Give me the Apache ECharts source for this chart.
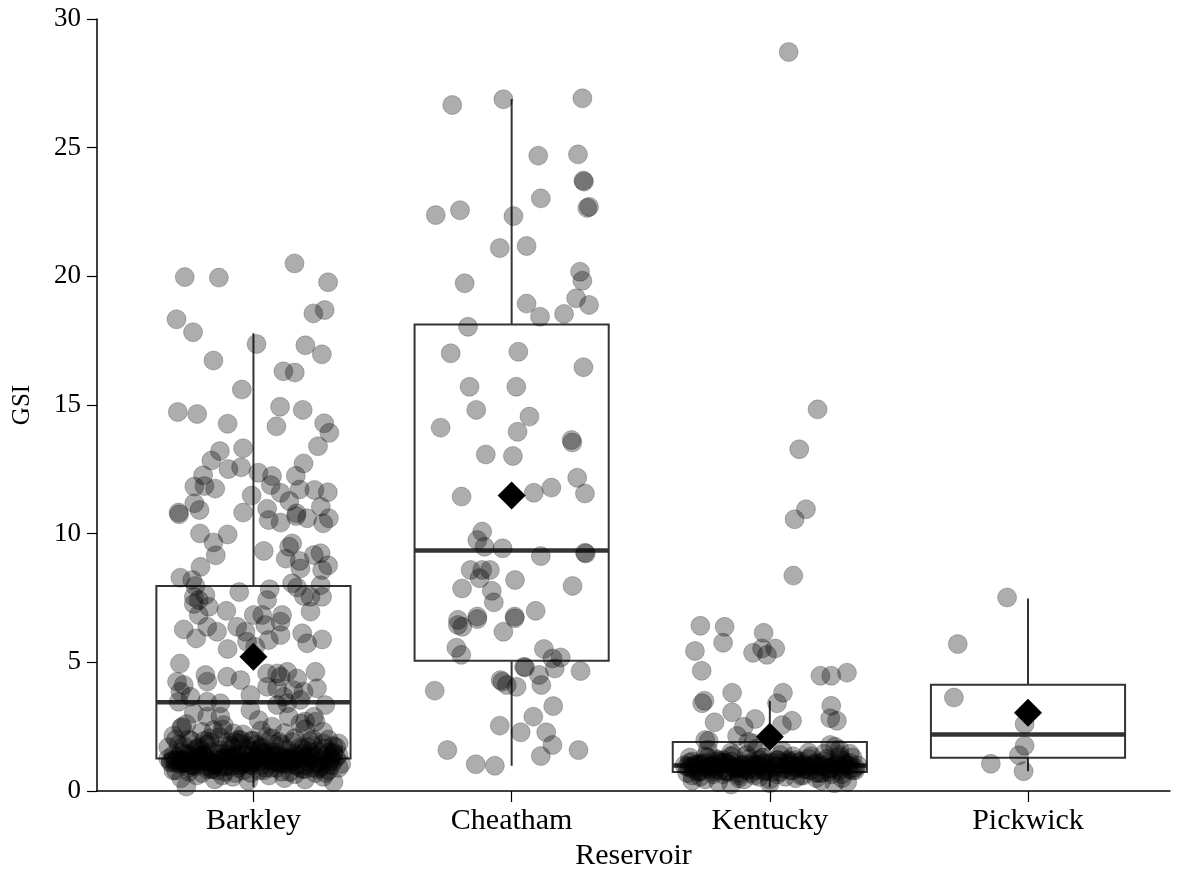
<!DOCTYPE html>
<html><head><meta charset="utf-8">
<script src="https://cdn.jsdelivr.net/npm/echarts@6/dist/echarts.min.js"></script>
<style>html,body{margin:0;padding:0;background:#fff}#c{width:1177px;height:873px}</style>
</head><body><div id="c"></div>
<script>
const categories = ['Barkley','Cheatham','Kentucky','Pickwick'];
const yTicks = [0,5,10,15,20,25,30];
// box stats: [min, Q1, median, Q3, max]
const boxStats = [
  [0.15, 1.26, 3.45, 7.97, 17.79],
  [0.98, 5.06, 9.35, 18.13, 26.89],
  [0.15, 0.74, 0.99, 1.9, 3.5],
  [0.77, 1.29, 2.2, 4.13, 7.48]
];
const means = [5.22, 11.48, 2.11, 3.04];

const barkleyGSI = [19.97,19.95,20.5,19.77,18.33,17.83,18.56,18.69,17.37,17.32,16.97,16.73,16.31,16.26,15.6,14.73,14.65,14.93,14.81,14.27,14.17,14.29,13.92,13.4,13.21,13.32,12.84,12.51,12.58,12.73,12.37,12.24,12.25,12.27,11.83,11.85,11.75,11.89,11.59,11.27,11.72,11.7,11.61,11.48,11.18,10.92,10.82,10.82,10.97,11.05,10.79,
10.75,10.53,10.43,10.69,10.6,10.4,10.6,10.01,9.97,9.66,9.16,9.33,9.49,9.62,9.03,8.94,8.65,9.17,9.24,8.77,8.59,8.71,8.29,8.2,7.97,7.73,7.84,8.07,7.91,7.58,7.55,8.0,7.55,7.55,7.42,7.62,7.16,7.27,7.0,7.42,6.84,6.84,6.84,6.58,6.97,6.84,6.28,6.38,6.19,6.38,6.19,6.45,5.87,6.06,6.13,5.74,5.89,5.93,5.52,5.8,5.61,
4.95,4.51,4.25,4.44,4.31,4.57,4.57,4.44,4.63,4.37,4.63,4.25,4.12,3.86,3.66,4.05,3.99,3.92,3.86,3.99,3.73,3.66,3.54,3.34,3.47,3.47,3.41,3.34,3.41,3.02,2.89,2.89,2.56,3.15,2.76,2.5,2.89,2.63,2.89,2.69,2.5,2.37,2.24,1.98,
2.45,2.3,2.4,2.2,2.35,2.25,2.4,2.3,2.15,
2.0,1.95,2.05,1.9,2.0,1.95,2.1,1.9,2.05,1.95,2.0,1.85,
1.7,1.75,1.65,1.8,1.6,1.7,1.75,1.65,1.8,1.6,1.7,1.75,1.65,1.7,
1.4,1.45,1.35,1.5,1.3,1.45,1.35,1.5,1.4,1.3,1.45,1.35,1.5,1.4,
1.1,1.2,1.0,1.15,1.05,1.2,1.0,1.1,1.2,1.05,1.15,1.0,1.1,1.2,1.05,
0.8,0.9,0.7,0.85,0.75,0.9,0.7,0.8,0.9,0.75,0.85,0.7,0.8,0.9,
0.5,0.6,0.45,0.55,0.4,0.6,0.5,0.45,0.55,0.35,
0.17,1.25,1.55,0.95,1.3,0.65,2.6,2.7,1.15,1.25,0.95,1.05,1.35,0.85,1.15,0.6,
1.2,1.3,1.1,1.4,1.0,1.25,1.35,1.15,1.05,1.45,0.95,1.3,1.2,1.1,1.4,1.0,1.25,1.15,1.35,0.9,
1.5,1.1,1.3,1.2,1.0,1.4,1.15,1.25,0.85,1.35,1.05,1.45,1.2,1.1,1.3,0.95,1.25,1.4,1.0,1.15,
1.6,1.2,1.35,1.05,1.25,1.5,0.9,1.3,1.1,1.2,1.4,1.0,1.15,1.3,0.8,1.25,1.45,1.1,1.2,1.35,
1.8,2.0,1.7,1.9,2.1,1.75,1.85,1.95,1.7,2.05,1.8,1.9,1.65,2.0,1.85,1.75,1.95,1.8,1.7,1.9,
1.1,1.2,1.0,1.3,1.15,1.05,1.25,0.95,1.35,1.1,1.2,1.0,1.3,1.15,1.05,1.25,0.9,1.35,1.1,1.2,
1.0,1.3,1.15,1.05,1.25,0.95,1.4,1.1,1.2,1.0,1.3,1.15,1.05,1.25,0.9,1.35,1.1,1.2,1.0,1.3,
0.8,1.5,0.75,1.55,0.85,1.45,0.7,1.6,0.8,1.5,0.75,1.45,0.85,1.55,0.7,1.5,0.8,1.45,0.9,1.6];
const barkleyJitter = [-0.266,-0.134,0.159,0.289,-0.298,-0.234,0.232,0.276,0.012,0.201,0.265,-0.155,0.116,0.16,-0.045,-0.293,-0.218,0.103,0.191,-0.1,0.089,0.274,0.294,0.25,-0.13,-0.04,-0.163,-0.097,-0.048,0.194,0.019,0.072,0.164,-0.195,-0.229,-0.19,-0.148,0.067,0.105,0.139,0.179,0.236,0.288,-0.007,-0.229,-0.209,-0.29,-0.04,0.053,0.261,0.167,
-0.288,0.059,0.105,0.165,0.208,0.27,0.292,-0.207,-0.1,-0.155,-0.146,0.04,0.138,0.15,0.125,0.179,0.182,0.234,0.26,0.289,0.266,-0.205,-0.283,-0.237,-0.225,-0.055,0.063,0.15,0.169,0.195,0.221,0.26,0.266,-0.231,-0.212,-0.186,-0.173,-0.231,-0.105,0.053,0.001,0.034,0.111,0.105,0.221,-0.212,-0.27,-0.179,-0.141,-0.063,-0.031,0.046,0.059,0.105,0.189,0.208,0.266,-0.222,-0.1,-0.025,0.007,
-0.285,-0.186,-0.179,-0.102,-0.05,0.053,0.092,0.105,0.131,0.169,0.24,-0.296,-0.27,-0.283,-0.244,0.053,0.092,0.155,0.194,0.246,-0.012,0.117,0.182,0.278,-0.29,-0.179,-0.128,0.092,0.131,-0.231,-0.179,-0.128,-0.115,-0.012,0.02,0.072,0.137,0.182,0.234,0.24,-0.276,-0.154,-0.077,-0.05,
-0.28,-0.2,-0.12,-0.04,0.03,0.12,0.2,0.27,-0.31,
-0.3,-0.24,-0.17,-0.1,-0.06,0.0,0.05,0.1,0.16,0.22,0.29,0.33,
-0.33,-0.27,-0.22,-0.18,-0.13,-0.08,-0.02,0.03,0.08,0.13,0.18,0.23,0.28,0.32,
-0.31,-0.26,-0.21,-0.16,-0.11,-0.06,-0.01,0.04,0.09,0.14,0.19,0.24,0.29,0.33,
-0.32,-0.28,-0.24,-0.2,-0.15,-0.1,-0.05,0.0,0.05,0.1,0.15,0.2,0.25,0.3,0.34,
-0.3,-0.25,-0.2,-0.16,-0.11,-0.06,-0.01,0.04,0.09,0.14,0.19,0.24,0.29,0.33,
-0.28,-0.22,-0.15,-0.08,-0.02,0.06,0.12,0.2,0.27,0.31,
-0.26,-0.33,0.0,-0.13,0.22,0.16,-0.26,0.2,-0.22,0.12,0.26,-0.04,0.07,-0.18,0.31,-0.12,
-0.31,-0.29,-0.27,-0.25,-0.23,-0.21,-0.19,-0.17,-0.15,-0.13,-0.11,-0.09,-0.07,-0.05,-0.03,-0.01,0.01,0.03,0.05,0.07,
0.09,0.11,0.13,0.15,0.17,0.19,0.21,0.23,0.25,0.27,0.29,0.31,-0.3,-0.26,-0.22,-0.18,-0.14,-0.1,-0.06,-0.02,
0.02,0.06,0.1,0.14,0.18,0.22,0.26,0.3,-0.28,-0.24,-0.2,-0.16,-0.12,-0.08,-0.04,0.0,0.04,0.08,0.12,0.16,
-0.29,-0.25,-0.21,-0.17,-0.13,-0.09,-0.05,-0.01,0.03,0.07,0.11,0.15,0.19,0.23,0.27,0.31,-0.19,0.01,0.21,-0.07,
-0.3,-0.27,-0.24,-0.21,-0.18,-0.15,-0.12,-0.09,-0.06,-0.03,0.0,0.03,0.06,0.09,0.12,0.15,0.18,0.21,0.24,0.27,
0.3,0.32,-0.32,-0.285,-0.255,-0.225,-0.195,-0.165,-0.135,-0.105,-0.075,-0.045,-0.015,0.015,0.045,0.075,0.105,0.135,0.165,0.195,
-0.31,-0.28,-0.25,-0.2,-0.16,-0.11,-0.07,-0.02,0.02,0.07,0.11,0.16,0.2,0.25,0.28,0.31,-0.14,0.04,0.23,-0.22];

const cheathamGSI = [26.66,26.88,26.92,24.69,24.74,23.72,23.68,23.03,22.38,22.57,22.34,22.66,22.7,21.1,21.18,19.73,20.18,19.83,18.94,18.43,18.54,19.15,18.89,18.04,17.01,17.07,
16.47,15.71,15.71,14.81,14.55,14.12,13.96,13.64,13.54,13.08,13.02,11.44,11.59,11.79,12.17,11.56,10.08,9.75,9.49,9.43,9.13,9.26,9.23,8.59,8.59,8.59,8.27,8.2,7.97,7.87,7.78,7.33,7.0,6.65,6.78,6.78,
6.45,6.38,6.68,6.19,6.71,5.57,5.29,5.52,5.15,5.19,4.76,4.66,4.83,4.8,4.51,4.12,4.31,4.25,4.12,4.05,3.9,3.3,2.89,2.54,2.28,2.28,1.79,1.59,1.59,1.36,1.04,0.98];
const cheathamJitter = [-0.23,-0.032,0.274,0.103,0.257,0.278,0.28,0.113,-0.294,-0.2,0.007,0.293,0.3,-0.046,0.058,-0.182,0.265,0.274,0.058,0.11,0.203,0.25,0.3,-0.169,-0.236,0.026,
0.278,-0.163,0.018,-0.137,0.069,-0.275,0.023,0.232,0.235,-0.1,0.005,-0.194,0.086,0.154,0.254,0.284,-0.114,-0.133,-0.105,-0.035,0.113,0.284,0.287,-0.159,-0.114,-0.084,-0.124,0.013,0.236,-0.192,-0.077,-0.069,0.093,-0.208,-0.133,0.012,
-0.208,-0.191,-0.133,-0.032,0.012,-0.214,-0.195,0.125,0.158,0.19,0.167,0.267,0.048,0.052,0.106,0.115,-0.043,-0.036,-0.019,0.019,-0.298,0.161,0.084,-0.046,0.035,0.134,0.158,0.259,-0.249,0.113,-0.139,-0.065];

const kentuckyGSI = [28.72,14.83,13.28,10.95,10.56,8.37,6.42,6.38,5.76,5.44,6.15,5.37,5.54,5.29,5.54,4.67,4.48,4.48,4.6,3.82,3.82,3.41,3.51,3.41,3.06,3.31,2.67,2.8,2.73,2.56,2.83,2.73,2.5,2.14,1.98,1.95,1.91,1.85,1.79,1.72,
1.6,1.5,1.65,1.55,1.5,1.6,1.45,
1.3,1.35,1.2,1.4,1.25,1.3,1.4,1.2,1.35,1.25,1.4,1.3,
1.0,1.05,0.95,1.1,0.9,1.0,1.05,0.95,1.1,0.9,1.0,1.05,0.95,1.1,1.0,
0.7,0.75,0.65,0.8,0.6,0.7,0.75,0.65,0.8,0.6,0.7,0.75,0.65,0.8,
0.4,0.35,0.45,0.3,0.5,0.4,0.35,0.45,0.3,
0.9,1.15,0.85,1.2,0.55,0.95,1.1,0.25,0.5,1.0,
0.9,1.0,0.8,1.1,0.85,0.95,1.05,0.75,1.15,0.9,1.0,0.8,1.1,0.85,0.95,1.05,0.75,1.2,0.9,1.0,
0.8,1.1,0.85,0.95,1.05,0.7,1.15,0.9,1.0,0.8,1.1,0.85,0.95,1.05,0.75,1.2,0.9,1.0,0.8,1.1,
0.6,0.55,1.3,1.25,0.65,1.35,0.5,1.4,0.6,1.3,0.45,1.2,0.55,1.35,0.6,1.25,0.5,1.45,0.65,1.3,
0.95,0.85,1.05,0.9,1.0,0.8,1.1,0.95,0.85,1.05,0.9,1.0,0.8,1.1,0.95,0.85,1.05,0.9,1.0,0.8,1.1,0.95,0.85,1.05,0.9,
1.0,0.8,1.1,0.95,0.85,1.05,0.9,1.0,0.8,1.1,0.95,0.85,1.05,0.9,1.0,0.75,1.15,0.7,1.2,0.75,1.15,0.7,1.2,0.75,1.15];
const kentuckyJitter = [0.073,0.185,0.114,0.14,0.096,0.091,-0.269,-0.175,-0.181,-0.29,-0.024,-0.065,-0.03,-0.011,0.021,-0.264,0.196,0.238,0.299,-0.146,0.051,-0.262,-0.253,0.028,-0.146,0.238,-0.214,-0.057,0.086,0.047,0.234,0.26,-0.101,-0.127,-0.25,-0.237,-0.083,-0.064,0.234,0.253,
-0.24,-0.15,-0.05,0.05,0.15,0.27,0.31,
-0.31,-0.25,-0.2,-0.14,-0.08,-0.02,0.04,0.1,0.16,0.22,0.27,0.32,
-0.33,-0.28,-0.23,-0.18,-0.13,-0.08,-0.03,0.02,0.07,0.12,0.17,0.22,0.27,0.31,0.34,
-0.32,-0.27,-0.22,-0.17,-0.12,-0.07,-0.02,0.03,0.08,0.13,0.18,0.23,0.28,0.32,
-0.3,-0.2,-0.1,0.0,0.1,0.2,0.3,-0.25,0.25,
0.33,-0.3,-0.1,0.07,-0.04,0.19,-0.19,-0.15,0.28,0.12,
-0.31,-0.29,-0.27,-0.25,-0.23,-0.21,-0.19,-0.17,-0.15,-0.13,-0.11,-0.09,-0.07,-0.05,-0.03,-0.01,0.01,0.03,0.05,0.07,
0.09,0.11,0.13,0.15,0.17,0.19,0.21,0.23,0.25,0.27,0.29,0.31,-0.3,-0.26,-0.22,-0.18,-0.14,-0.1,-0.06,-0.02,
-0.3,-0.27,-0.24,-0.21,-0.18,-0.15,-0.12,-0.09,-0.06,-0.03,0.0,0.03,0.06,0.09,0.12,0.15,0.18,0.21,0.24,0.27,
-0.32,-0.295,-0.27,-0.245,-0.22,-0.195,-0.17,-0.145,-0.12,-0.095,-0.07,-0.045,-0.02,0.005,0.03,0.055,0.08,0.105,0.13,0.155,0.18,0.205,0.23,0.255,0.28,
0.305,0.33,-0.31,-0.26,-0.21,-0.16,-0.11,-0.06,-0.01,0.04,0.09,0.14,0.19,0.24,0.29,-0.28,-0.2,-0.12,-0.04,0.04,0.12,0.2,0.28,-0.16,0.08];

const pickwickGSI = [7.52,5.71,3.63,2.6,1.76,1.39,1.06,0.77];
const pickwickJitter = [-0.081,-0.272,-0.287,-0.013,-0.013,-0.035,-0.144,-0.017];

const groups = [[barkleyGSI,barkleyJitter],[cheathamGSI,cheathamJitter],[kentuckyGSI,kentuckyJitter],[pickwickGSI,pickwickJitter]];
const pointData = [];
groups.forEach(([vals, jit], i) => vals.forEach((v, k) => pointData.push([i + 1 + jit[k], v])));
const boxData = boxStats.map((s, i) => [i + 1].concat(s));
const meanData = means.map((m, i) => [i + 1, m]);
const HALF = 0.376;

const chart = echarts.init(document.getElementById('c'));
const font = "'Liberation Serif','Times New Roman',serif";
chart.setOption({
  animation: false,
  backgroundColor: '#fff',
  grid: {left: 97, right: 7, top: 19, bottom: 82, containLabel: false, outerBoundsMode: 'none'},
  xAxis: {
    type: 'value', min: 0.394, max: 4.55,
    name: 'Reservoir', nameLocation: 'middle', nameGap: 50,
    nameTextStyle: {fontFamily: font, fontSize: 30, color: '#000'},
    axisLine: {show: true, lineStyle: {color: '#000', width: 1.5}},
    axisTick: {show: true, length: 11, customValues: [1,2,3,4], lineStyle: {color: '#000', width: 1.2}},
    axisLabel: {customValues: [1,2,3,4], margin: 15, fontFamily: font, fontSize: 30, color: '#000',
      formatter: v => categories[Math.round(v) - 1] || ''},
    splitLine: {show: false}
  },
  yAxis: {
    type: 'value', min: 0, max: 30, interval: 5,
    name: 'GSI', nameLocation: 'middle', nameGap: 62, nameRotate: 90,
    nameTextStyle: {fontFamily: font, fontSize: 25, color: '#000'},
    axisLine: {show: true, lineStyle: {color: '#000', width: 1.5}},
    axisTick: {show: true, length: 10, lineStyle: {color: '#000', width: 1.2}},
    axisLabel: {margin: 16, fontFamily: font, fontSize: 27, color: '#000',
      formatter: v => yTicks.includes(v) ? String(v) : ''},
    splitLine: {show: false}
  },
  series: [
    {
      type: 'custom', data: boxData, z: 2,
      encode: {x: 0, y: [1,2,3,4,5]},
      renderItem: function (params, api) {
        const c = api.value(0);
        const mn = api.value(1), q1 = api.value(2), md = api.value(3), q3 = api.value(4), mx = api.value(5);
        const pL1 = api.coord([c - HALF, q1]), pR3 = api.coord([c + HALF, q3]);
        const pMdL = api.coord([c - HALF, md]), pMdR = api.coord([c + HALF, md]);
        const pTop = api.coord([c, mx]), pQ3 = api.coord([c, q3]);
        const pBot = api.coord([c, mn]), pQ1 = api.coord([c, q1]);
        const st = {stroke: '#333', lineWidth: 2, fill: null};
        return {type: 'group', children: [
          {type: 'line', shape: {x1: pTop[0], y1: pTop[1], x2: pQ3[0], y2: pQ3[1]}, style: st},
          {type: 'line', shape: {x1: pBot[0], y1: pBot[1], x2: pQ1[0], y2: pQ1[1]}, style: st},
          {type: 'rect', shape: {x: pL1[0], y: pR3[1], width: pR3[0] - pL1[0], height: pL1[1] - pR3[1]}, style: st},
          {type: 'line', shape: {x1: pMdL[0], y1: pMdL[1], x2: pMdR[0], y2: pMdR[1]}, style: {stroke: '#333', lineWidth: 4.5}}
        ]};
      }
    },
    {
      type: 'scatter', data: pointData, z: 3, symbol: 'circle', symbolSize: 19,
      itemStyle: {color: 'rgba(0,0,0,0.32)', borderColor: 'rgba(0,0,0,0.22)', borderWidth: 1, opacity: 1}
    },
    {
      type: 'scatter', data: meanData, z: 4, symbol: 'diamond', symbolSize: [28, 28],
      itemStyle: {color: '#000', opacity: 1}
    }
  ]
});
</script></body></html>
